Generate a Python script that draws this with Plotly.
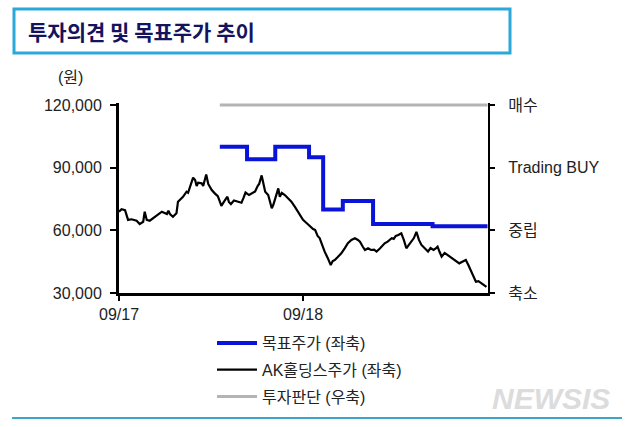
import plotly.graph_objects as go

# ---- data ----
stock_dates = [
    "2017-09-01","2017-09-06","2017-09-13","2017-09-19","2017-09-26","2017-10-06","2017-10-12","2017-10-19",
    "2017-10-22","2017-10-26","2017-11-01","2017-11-08","2017-11-15","2017-11-25","2017-12-05","2017-12-08",
    "2017-12-11","2017-12-17","2017-12-24","2017-12-27","2018-01-06","2018-01-13","2018-01-16","2018-01-20",
    "2018-01-26","2018-01-30","2018-02-02","2018-02-05","2018-02-12","2018-02-15","2018-02-17","2018-02-21",
    "2018-02-25","2018-03-04","2018-03-10","2018-03-16","2018-03-21","2018-03-23","2018-03-29","2018-04-04",
    "2018-04-07","2018-04-11","2018-04-17","2018-04-25","2018-05-02","2018-05-06","2018-05-10","2018-05-17",
    "2018-05-23","2018-05-29","2018-06-03","2018-06-06","2018-06-11","2018-06-14","2018-06-18","2018-06-24",
    "2018-07-01","2018-07-04","2018-07-09","2018-07-14","2018-07-17","2018-07-21","2018-07-27","2018-08-02",
    "2018-08-09","2018-08-16","2018-08-26","2018-09-01","2018-09-08","2018-09-14","2018-09-21","2018-09-25",
    "2018-09-30","2018-10-04","2018-10-08","2018-10-14","2018-10-20","2018-10-26","2018-10-30","2018-11-03",
    "2018-11-09","2018-11-16","2018-11-23","2018-11-29","2018-12-06","2018-12-13","2018-12-19","2018-12-23",
    "2018-12-29","2019-01-02","2019-01-08","2019-01-14","2019-01-20","2019-01-25","2019-02-01","2019-02-10",
    "2019-02-16","2019-02-24","2019-02-28","2019-03-04","2019-03-09","2019-03-15","2019-03-20","2019-03-25",
    "2019-03-30","2019-04-04","2019-04-09","2019-04-14","2019-04-19","2019-04-24","2019-05-01","2019-05-07",
    "2019-05-12","2019-05-18","2019-05-23","2019-05-26","2019-05-30","2019-06-03","2019-06-09","2019-06-15",
    "2019-06-22","2019-06-29","2019-07-04","2019-07-08","2019-07-15","2019-07-21","2019-07-26","2019-08-01",
    "2019-08-05","2019-08-10","2019-08-15","2019-08-20","2019-08-25","2019-08-31",
]
stock_prices = [
    68900,70100,69700,65000,65300,64600,63000,64100,
    68900,65000,64600,65800,67300,68900,67800,69400,
    67800,66500,68200,73700,76000,78500,78000,80900,
    85200,84100,81200,82800,82500,81200,83300,86700,
    82200,79300,77700,76400,73100,71700,74000,76100,
    73600,72600,74300,73700,73200,75500,78100,76900,
    77900,78600,81200,82200,86300,82700,78500,76900,
    70600,72100,76400,80100,76100,77900,76900,75500,
    73700,71200,67100,65000,63500,62100,60600,60200,
    57300,56300,53500,49800,46800,43400,45300,45800,
    47200,49000,51500,53800,55400,56200,55400,54600,
    52000,50600,51400,50600,50800,49800,51400,53800,
    54600,56200,55900,57300,57800,58600,55400,51400,
    53000,54600,56300,59300,55400,53000,51500,49800,
    51500,50600,51500,52200,49600,47400,49200,48200,
    47200,45800,44800,44200,45100,45800,43400,40200,
    37700,35400,35700,34800,34300,32900,
]

target_dates = ["2018-03-20","2018-05-13","2018-07-08","2018-09-13","2018-10-11",
                "2018-11-19","2019-01-18","2019-05-16","2019-09-02"]
target_prices = [100000,94000,100000,95000,70000,74000,63000,62000,62000]

opinion_dates = ["2018-03-20","2019-09-02"]
opinion_levels = [3,3]

opinion_ticks = [0,1,2,3]
opinion_labels = ["축소","중립","Trading BUY","매수"]

price_ticks = [30000,60000,90000,120000]
x_ticks = ["2017-09-01","2018-09-01"]
x_labels = ["09/17","09/18"]

FONT = "Liberation Sans, Arial, Noto Sans CJK KR, sans-serif"

fig = go.Figure()
fig.add_trace(go.Scatter(x=target_dates, y=target_prices, mode="lines", line_shape="hv",
                         line=dict(color="#0a14d8", width=4), name="목표주가 (좌축)",
                         legendgroup="a"))
fig.add_trace(go.Scatter(x=stock_dates, y=stock_prices, mode="lines",
                         line=dict(color="#000000", width=2.2), name="AK홀딩스주가 (좌축)",
                         legendgroup="b"))
fig.add_trace(go.Scatter(x=opinion_dates, y=opinion_levels, mode="lines", yaxis="y2",
                         line=dict(color="#b4b4b4", width=3), name="투자판단 (우축)",
                         legendgroup="c"))

L, R, T, B = 119, 152, 103, 134
W, H = 640, 427
pw, ph = W - L - R, H - T - B
def px(x): return (x - L) / pw
def py(y): return (H - B - y) / ph

ytop = 30000 + 90000 * ph / 188.0

fig.update_layout(
    width=W, height=H,
    margin=dict(l=L, r=R, t=T, b=B, autoexpand=False),
    paper_bgcolor="white", plot_bgcolor="white",
    font=dict(family=FONT, size=16, color="#222222"),
    showlegend=True,
    legend=dict(x=px(212), y=py(326), xanchor="left", yanchor="top",
                font=dict(size=16, color="#222222"), tracegroupgap=3,
                traceorder="grouped", bgcolor="rgba(0,0,0,0)", itemwidth=40),
    xaxis=dict(type="date", range=["2017-09-01", "2019-09-03"],
               tickvals=x_ticks, ticktext=x_labels, automargin=False,
               showline=True, linecolor="black", linewidth=3,
               ticks="outside", ticklen=5, tickwidth=2, tickcolor="black",
               showgrid=False, zeroline=False, tickfont=dict(size=16, color="#222")),
    yaxis=dict(range=[30000, ytop], tickvals=price_ticks, tickformat=",d", automargin=False,
               showline=True, linecolor="black", linewidth=3,
               ticks="outside", ticklen=6, tickwidth=2, tickcolor="black",
               showgrid=False, zeroline=False, ticklabelstandoff=5,
               tickfont=dict(size=16, color="#222")),
    yaxis2=dict(overlaying="y", side="right", range=[0, 3 * (ytop - 30000) / 90000],
                tickvals=opinion_ticks, ticktext=opinion_labels, automargin=False,
                showline=True, linecolor="black", linewidth=2,
                ticks="outside", ticklen=5, tickwidth=2, tickcolor="black",
                showgrid=False, zeroline=False, ticklabelstandoff=10,
                tickfont=dict(size=16, color="#222")),
)

# title box
fig.add_shape(type="rect", xref="paper", yref="paper",
              x0=px(14), x1=px(510), y0=py(53), y1=py(9),
              line=dict(color="#2aa8d8", width=3), fillcolor="white", layer="below")
fig.add_annotation(xref="paper", yref="paper", x=px(26), y=py(31), xanchor="left", yanchor="middle",
                   text="<b>투자의견 및 목표주가 추이</b>", showarrow=False,
                   font=dict(family="Noto Sans CJK KR", size=21, color="#14145e"))
# unit
fig.add_annotation(xref="paper", yref="paper", x=px(70), y=py(77), xanchor="center", yanchor="middle",
                   text="(원)", showarrow=False, font=dict(size=16, color="#222"))
# bottom rule
fig.add_shape(type="line", xref="paper", yref="paper", x0=px(12), x1=px(622), y0=py(418), y1=py(418),
              line=dict(color="#3aa6c8", width=2))
# watermark
fig.add_annotation(xref="paper", yref="paper", x=px(551), y=py(398), xanchor="center", yanchor="middle",
                   text="<b><i>NEWSIS</i></b>", showarrow=False,
                   font=dict(family="Liberation Sans", size=30, color="#dcdcdc"))

fig.write_html("out.html")
